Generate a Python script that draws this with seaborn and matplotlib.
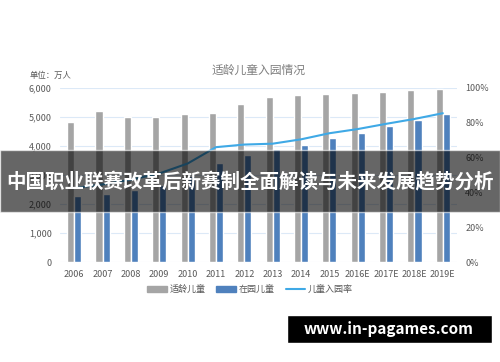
import numpy as np
import pandas as pd
import seaborn as sns
from matplotlib import pyplot as plt
from matplotlib.patches import Rectangle, Patch
from matplotlib.lines import Line2D

years = ["2006", "2007", "2008", "2009", "2010", "2011", "2012", "2013",
         "2014", "2015", "2016E", "2017E", "2018E", "2019E"]
eligible = [4820, 5220, 4990, 4990, 5090, 5150, 5440, 5700, 5770, 5780, 5830, 5860, 5920, 5955]
enrolled = [2264, 2349, 2475, 2658, 2977, 3424, 3686, 3895, 4051, 4265, 4460, 4680, 4900, 5090]
rate = [42.5, 44.6, 47.3, 50.9, 56.6, 66.0, 67.5, 68.0, 70.5, 74.0, 76.4, 79.4, 82.2, 85.5]

sns.set_theme(style="white")
plt.rcParams['font.family'] = ['Noto Sans CJK SC', 'DejaVu Sans']

gray = "#a5a5a5"
blue = "#4f81bd"
line_c = "#3fa9e6"
txt = "#595959"

df = pd.DataFrame({
    "year": years * 2,
    "value": eligible + enrolled,
    "kind": ["适龄儿童"] * len(years) + ["在园儿童"] * len(years),
})

fig = plt.figure(figsize=(5, 3.62), dpi=100)
ax = fig.add_axes([0.12, 0.276, 0.794, 0.481])
sns.barplot(data=df, x="year", y="value", hue="kind", palette=[gray, blue],
            width=0.5, ax=ax, legend=False, saturation=1)
ax.set_ylim(0, 6000)
ax.set_yticks(range(0, 6001, 1000))
ax.set_yticklabels([f"{v:,}" for v in range(0, 6001, 1000)])
ax.set_xlim(-0.5, len(years) - 0.5)
ax.set_xlabel("")
ax.set_ylabel("")
ax.grid(axis="y", color="#dce9f7", linewidth=0.8)
ax.set_axisbelow(True)
for s in ax.spines.values():
    s.set_visible(False)
ax.tick_params(axis="both", length=0, labelsize=6.5, colors=txt, pad=6)

ax2 = ax.twinx()
sns.lineplot(x=np.arange(len(years)), y=rate, ax=ax2, color=line_c, linewidth=1.5)
ax2.set_ylim(0, 100)
ax2.set_yticks(range(0, 101, 20))
ax2.set_yticklabels([f"{v}%" for v in range(0, 101, 20)])
for s in ax2.spines.values():
    s.set_visible(False)
ax2.tick_params(axis="y", length=0, labelsize=6.5, colors=txt, pad=6)

fig.text(0.516, 0.806, "适龄儿童入园情况", ha="center", va="center", fontsize=8.5, color="#7f7f7f")
fig.text(0.06, 0.793, "单位：万人", ha="left", va="center", fontsize=6, color=txt)

handles = [Patch(color=gray), Patch(color=blue), Line2D([], [], color=line_c, linewidth=1.5)]
fig.legend(handles, ["适龄儿童", "在园儿童", "儿童入园率"], loc="center", ncol=3,
           bbox_to_anchor=(0.5, 0.2), frameon=False, fontsize=6.5, labelcolor=txt,
           handlelength=2.2, handleheight=0.6, columnspacing=1.2, handletextpad=0.3)

# overlay banner
fig.patches.append(Rectangle((0, 1 - 212 / 362), 1, 62 / 362, transform=fig.transFigure,
                             facecolor="black", alpha=0.6, zorder=10))
fig.text(0.5, 1 - 182 / 362, "中国职业联赛改革后新赛制全面解读与未来发展趋势分析",
         ha="center", va="center", fontsize=14, color="white", fontweight="bold", zorder=11)

fig.patches.append(Rectangle((287 / 500, 1 - 343 / 362), 205 / 500, 28 / 362,
                             transform=fig.transFigure, facecolor="black", zorder=10))
fig.text(389 / 500, 1 - 329 / 362, "www.in-pagames.com", ha="center", va="center",
         fontsize=11, color="white", fontweight="bold", zorder=11)

fig.savefig("out.png", dpi=100)
